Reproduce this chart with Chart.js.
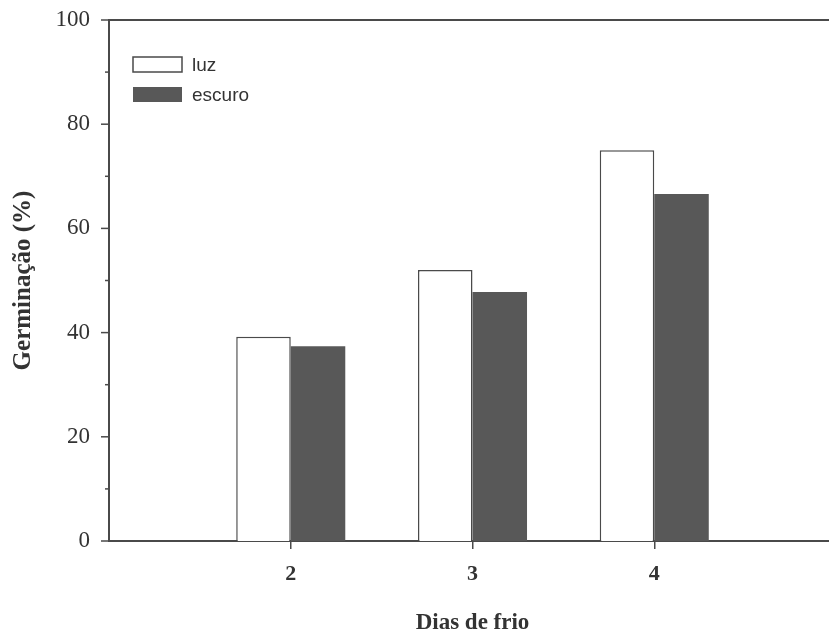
<!DOCTYPE html>
<html><head><meta charset="utf-8">
<script src="https://cdn.jsdelivr.net/npm/chart.js@4/dist/chart.umd.min.js"></script>
<style>html,body{margin:0;padding:0;background:#fff;overflow:hidden}#wrap{width:836px;height:631px;position:relative}</style>
</head><body><div id="wrap"><canvas id="c"></canvas></div>
<script>
const xValues = [2, 3, 4];
const xTickLabels = ['2', '3', '4'];
const luz = [39.2, 52.0, 75.0];
const escuro = [37.4, 47.8, 66.6];
const seriesNames = ['luz', 'escuro'];
const yMajorTicks = [0, 20, 40, 60, 80, 100];
const yMinorTicks = [10, 30, 50, 70, 90];
const xTitle = 'Dias de frio';
const yTitle = 'Germinação (%)';

const AX = '#4a4a4a';
const TXT = '#333333';

const frameAndTicks = {
  id: 'frameAndTicks',
  afterDraw(chart) {
    const ctx = chart.ctx, a = chart.chartArea, y = chart.scales.y;
    ctx.save();
    ctx.strokeStyle = AX;
    ctx.lineWidth = 2;
    ctx.beginPath();
    ctx.moveTo(a.left - 1, a.top);
    ctx.lineTo(chart.width, a.top);
    ctx.stroke();
    ctx.lineWidth = 1.5;
    yMajorTicks.forEach(v => {
      const p = y.getPixelForValue(v);
      ctx.beginPath(); ctx.moveTo(a.left, p); ctx.lineTo(a.left - 8, p); ctx.stroke();
    });
    yMinorTicks.forEach(v => {
      const p = y.getPixelForValue(v);
      ctx.beginPath(); ctx.moveTo(a.left, p); ctx.lineTo(a.left - 4, p); ctx.stroke();
    });
    ctx.restore();
  }
};

const insideLegend = {
  id: 'insideLegend',
  afterDraw(chart) {
    const ctx = chart.ctx, a = chart.chartArea;
    ctx.save();
    chart.data.datasets.forEach((ds, i) => {
      const bx = a.left + 24, by = a.top + 37 + i * 30, bw = 49, bh = 15;
      ctx.fillStyle = ds.backgroundColor;
      ctx.fillRect(bx, by, bw, bh);
      if (ds.borderWidth) {
        ctx.strokeStyle = ds.borderColor; ctx.lineWidth = 1.5;
        ctx.strokeRect(bx, by, bw, bh);
      }
      ctx.fillStyle = TXT;
      ctx.font = '19px "Liberation Sans", Arial, sans-serif';
      ctx.textBaseline = 'middle';
      ctx.textAlign = 'left';
      ctx.fillText(ds.label, bx + bw + 10, by + bh / 2 + 1);
    });
    ctx.restore();
  }
};

new Chart(document.getElementById('c'), {
  type: 'bar',
  data: {
    datasets: [
      { label: seriesNames[0], data: xValues.map((x, i) => ({ x, y: luz[i] })),
        backgroundColor: '#ffffff', borderColor: AX, borderWidth: 1.5 },
      { label: seriesNames[1], data: xValues.map((x, i) => ({ x, y: escuro[i] })),
        backgroundColor: '#585858', borderColor: '#585858', borderWidth: 0 }
    ]
  },
  options: {
    responsive: true, maintainAspectRatio: false, animation: false,
    categoryPercentage: 0.6, barPercentage: 1.0,
    layout: { padding: { top: 20, left: 0, right: 0, bottom: 0 } },
    plugins: { legend: { display: false }, tooltip: { enabled: false } },
    scales: {
      x: {
        type: 'linear', min: 1, max: 5, offset: false, z: 1,
        afterBuildTicks: s => { s.ticks = xValues.map(v => ({ value: v })); },
        afterFit: s => { s.height = 90; s.paddingLeft = 0; s.paddingRight = 0; },
        border: { display: true, color: AX, width: 2 },
        grid: { display: true, offset: false, drawOnChartArea: false, drawTicks: true, tickLength: 8, color: AX, lineWidth: 1.5 },
        ticks: { padding: 12, color: TXT, font: { family: '"Liberation Serif", "Times New Roman", serif', size: 22, weight: 'bold' },
          callback: v => xTickLabels[xValues.indexOf(v)] ?? '' },
        title: { display: true, text: xTitle, color: TXT, padding: { top: 0, bottom: 0 },
          font: { family: '"Liberation Serif", "Times New Roman", serif', size: 23, weight: 'bold', lineHeight: 0.7 } }
      },
      y: {
        min: 0, max: 100, z: 1,
        afterBuildTicks: s => { s.ticks = yMajorTicks.map(v => ({ value: v })); },
        afterFit: s => { s.width = 109; s.paddingTop = 0; s.paddingBottom = 0; },
        border: { display: true, color: AX, width: 2 },
        grid: { display: false, drawOnChartArea: false, drawTicks: false },
        ticks: { padding: 19, color: TXT, font: { family: '"Liberation Serif", "Times New Roman", serif', size: 23 } },
        title: { display: true, text: yTitle, color: TXT, padding: { top: 9, bottom: 0 },
          font: { family: '"Liberation Serif", "Times New Roman", serif', size: 25, weight: 'bold' } }
      }
    }
  },
  plugins: [frameAndTicks, insideLegend]
});
</script>
</body></html>
